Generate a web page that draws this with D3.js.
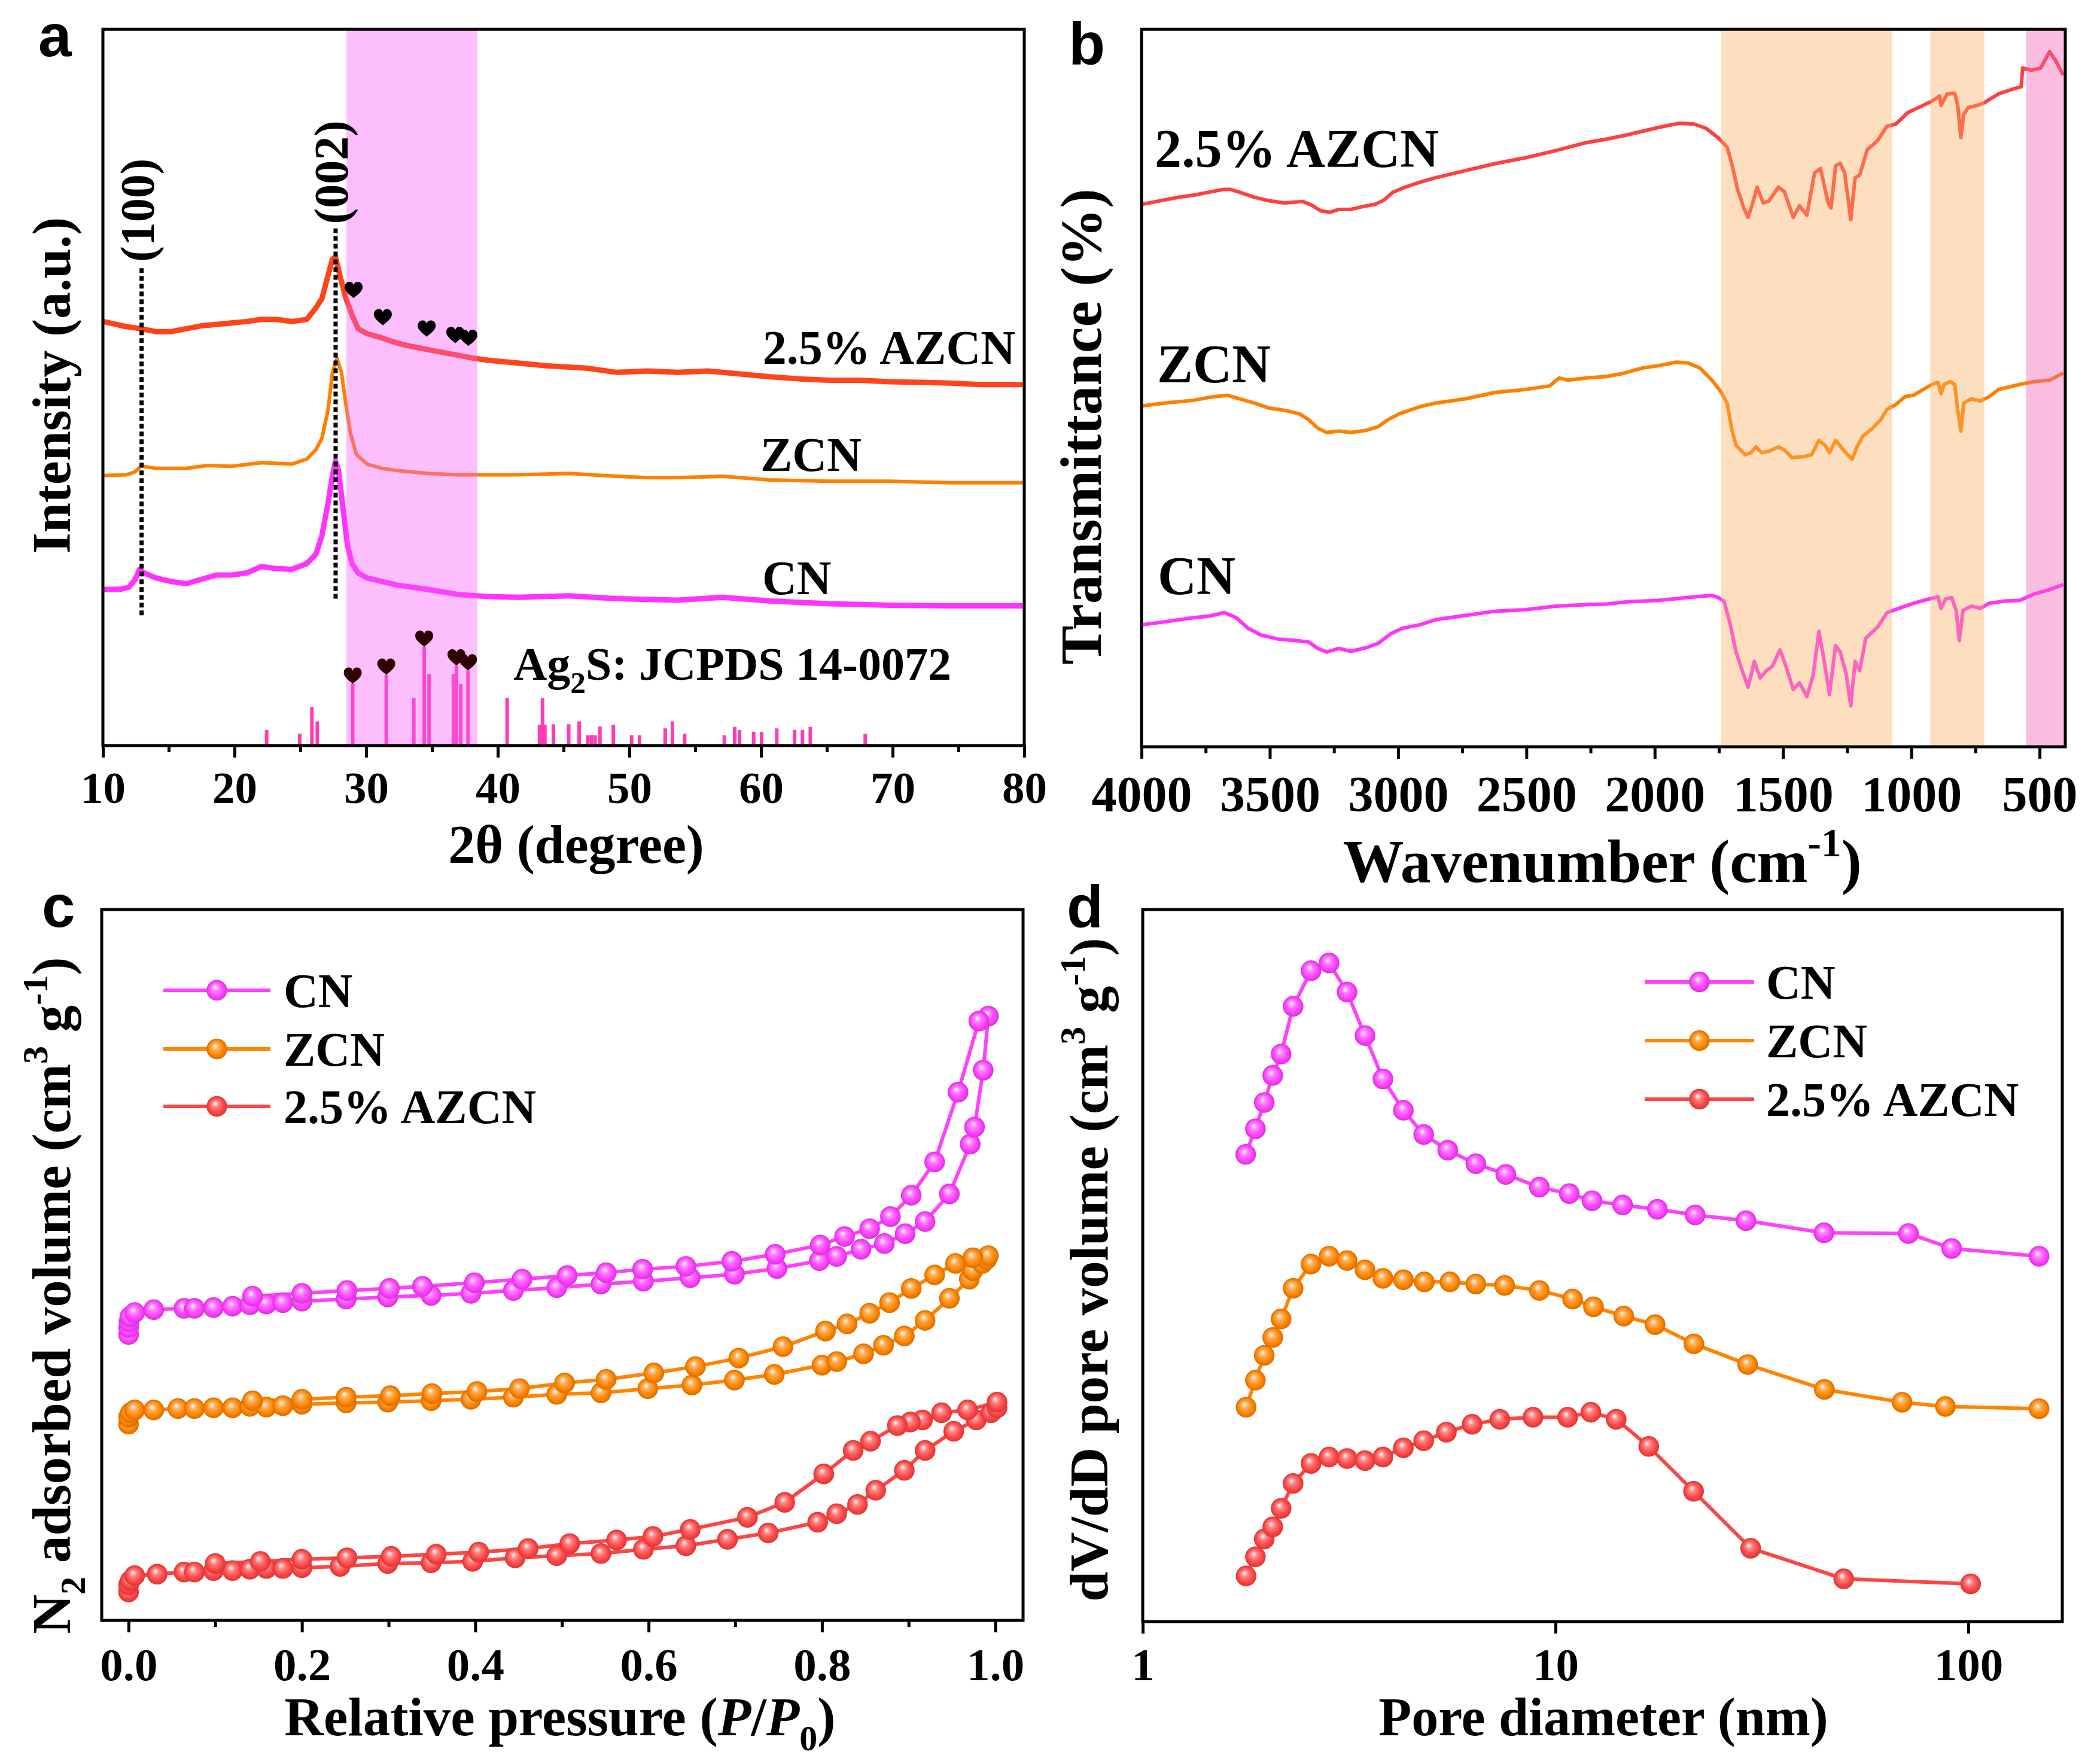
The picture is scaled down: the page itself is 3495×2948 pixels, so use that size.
<!DOCTYPE html>
<html>
<head>
<meta charset="utf-8">
<script src="https://cdnjs.cloudflare.com/ajax/libs/d3/7.8.5/d3.min.js"></script>
<style>body{margin:0;background:#fff}</style>
</head>
<body>
<div id="viz-container"></div>
<script>
// ---------- data (arbitrary units for stacked curves) ----------
// a: XRD, [2theta, intensity]
let xrdAzcn = [[10.03,59.2],[11.75,58.5],[12.89,58.2],[14.04,57.8],[15.18,57.8],[16.33,58.2],[17.47,58.6],[18.62,58.8],[19.76,59.0],[20.91,59.2],[22.05,59.5],[23.2,59.5],[24.35,59.2],[25.49,59.5],[26.18,61.1],[26.64,62.4],[27.1,65.6],[27.44,67.9],[27.67,68.2],[28.01,65.6],[28.47,62.4],[28.93,60.1],[29.39,58.2],[30.07,57.5],[31.22,56.9],[32.36,56.2],[33.51,55.7],[34.66,55.3],[35.8,54.9],[36.95,54.5],[38.09,54.1],[39.24,53.8],[41.53,53.4],[43.82,53.0],[46.76,52.7],[49.06,52.1],[51.37,52.3],[53.67,52.1],[55.98,52.3],[58.28,51.9],[60.59,51.5],[62.89,51.2],[65.2,51.0],[67.5,51.0],[69.8,50.8],[72.1,50.7],[74.4,50.6],[76.7,50.4],[80,50.4]];
let xrdZcn = [[10.03,37.7],[11.75,37.8],[12.43,38.2],[12.89,39.0],[13.35,38.9],[14.04,38.7],[16.33,38.7],[17.93,39.1],[19.76,39.0],[22.05,39.5],[24.35,39.3],[25.49,40.0],[26.18,41.3],[26.64,42.9],[27.1,46.8],[27.44,52.0],[27.78,54.1],[28.13,52.0],[28.47,47.5],[28.81,43.6],[29.27,40.6],[30.07,39.3],[31.22,38.7],[32.36,38.4],[34.66,38.0],[36.95,37.8],[41.53,37.8],[45.4,38.0],[49.06,37.6],[51.37,37.4],[53.67,37.4],[57.1,37.6],[60.59,37.1],[65.2,36.9],[69.8,36.9],[74.4,36.7],[80,36.7]];
let xrdCn = [[10.03,21.8],[11.29,21.8],[11.97,22.1],[12.43,23.1],[12.78,24.6],[13.12,24.1],[14.04,23.4],[15.18,22.9],[16.33,22.6],[17.47,23.2],[18.62,23.8],[19.76,23.8],[20.91,24.1],[22.05,25.0],[23.2,24.7],[24.35,24.6],[25.49,25.4],[26.18,26.7],[26.64,29.3],[27.1,33.8],[27.44,37.7],[27.67,39.7],[27.9,38.4],[28.24,33.2],[28.58,28.0],[28.93,25.4],[29.39,24.1],[30.07,23.4],[31.22,22.9],[32.36,22.4],[34.66,21.8],[36.95,21.1],[39.24,20.8],[41.53,20.7],[45.4,20.9],[49.06,20.5],[53.67,20.3],[57.1,20.7],[60.59,20.2],[65.2,19.8],[69.8,19.6],[74.4,19.5],[80,19.5]];
// Ag2S reference lines
let ag2sAngle = [22.44,24.95,25.88,26.29,28.98,31.53,33.62,34.41,34.78,36.63,36.86,37.19,37.74,40.71,43.17,43.40,43.58,44.23,45.39,46.18,46.83,47.11,47.39,47.76,48.78,50.17,50.77,52.72,53.27,54.20,57.21,58.0,58.37,59.44,60.04,61.2,62.55,63.15,63.75,67.92];
let ag2sInt = [15.7,12,39,24.5,62.5,71.7,48.2,100,72.3,72.3,81.1,62.5,76.1,48.2,21,48.2,21,21.6,21.6,24.5,10.5,10.5,10.5,19.3,21,10.5,10.5,17.4,24.5,12,10.5,18.9,15.7,14,14,17.4,15.7,15.7,18.9,12];
let heartStickAngles = [28.98,31.53,34.41,36.86,37.74];
let heartCurve = [[29.05,63.6],[31.27,59.8],[34.6,58.2],[36.77,57.3],[37.77,56.9]];
let planeLines = [{label:"(100)", x:12.94, y0:18.2, y1:66.9}, {label:"(002)", x:27.68, y0:20.5, y1:72.2}];
let xrdBand = [28.5, 38.44];
let xrdTicks = [10,20,30,40,50,60,70,80];
let xrdMinor = [15,25,35,45,55,65,75];

// b: FTIR, [wavenumber, transmittance]
let ftirAzcn = [[4000,75.6],[3913,76.2],[3854,76.6],[3795,76.9],[3737,77.3],[3678,77.7],[3654,77.7],[3619,77.3],[3560,76.6],[3502,76.1],[3443,75.8],[3372,76.0],[3337,75.5],[3302,74.7],[3266,74.5],[3231,74.9],[3184,74.9],[3137,75.3],[3090,75.6],[3055,76.2],[3020,77.3],[2973,78.0],[2914,78.7],[2855,79.3],[2738,80.3],[2620,81.3],[2503,82.1],[2385,83.1],[2268,84.2],[2188,84.7],[2106,85.3],[1988,86.3],[1906,86.9],[1847,86.8],[1800,86.2],[1753,84.9],[1718,83.6],[1700,81.3],[1677,77.7],[1653,75.1],[1636,73.8],[1618,75.8],[1601,78.0],[1577,75.8],[1554,76.1],[1518,78.0],[1495,77.4],[1460,73.8],[1436,75.4],[1407,74.1],[1377,80.0],[1354,80.6],[1324,75.8],[1313,75.1],[1295,81.0],[1277,81.3],[1260,80.0],[1236,73.5],[1219,79.3],[1201,79.7],[1172,83.2],[1131,84.5],[1095,86.5],[1060,86.8],[1013,88.4],[954,89.4],[919,90.0],[890,90.7],[884,89.4],[860,91.0],[831,91.1],[819,89.4],[807,84.9],[796,88.1],[778,89.1],[743,89.4],[719,89.7],[660,91.0],[602,91.7],[572,92.0],[566,94.6],[531,94.3],[496,94.6],[461,96.9],[437,95.6],[408,93.6]];
let ftirZcn = [[4000,47.5],[3913,47.9],[3795,48.3],[3737,48.7],[3666,49.0],[3619,48.5],[3560,47.9],[3502,47.2],[3443,46.9],[3384,46.4],[3349,45.6],[3313,44.4],[3278,43.8],[3231,44.0],[3184,43.8],[3125,44.1],[3078,44.6],[3043,45.5],[2996,46.4],[2914,47.4],[2855,47.9],[2738,48.5],[2620,49.4],[2503,49.8],[2409,50.3],[2373,51.4],[2338,51.1],[2268,51.4],[2188,51.6],[2129,52.0],[2047,52.8],[1988,53.1],[1918,53.6],[1871,53.5],[1824,52.8],[1777,51.1],[1742,49.5],[1718,47.9],[1700,44.3],[1683,42.0],[1648,40.7],[1624,41.0],[1606,41.8],[1583,41.0],[1554,41.2],[1518,41.8],[1495,41.4],[1465,40.3],[1424,40.4],[1389,40.7],[1360,42.7],[1336,42.0],[1319,41.0],[1295,42.7],[1272,41.7],[1248,40.7],[1230,40.1],[1213,41.7],[1189,43.3],[1154,44.3],[1119,45.6],[1095,47.0],[1060,47.7],[1025,48.8],[990,49.0],[954,49.8],[919,50.5],[896,50.8],[884,49.2],[872,50.5],[849,50.9],[831,50.5],[819,46.9],[807,44.0],[796,47.9],[766,48.5],[731,48.2],[696,48.8],[660,49.8],[578,50.5],[520,50.9],[461,51.1],[408,52.1]];
let ftirCn = [[4000,17.0],[3913,17.4],[3854,17.7],[3795,18.0],[3737,18.2],[3678,18.7],[3631,18.0],[3584,16.5],[3537,15.6],[3466,15.0],[3396,14.8],[3349,14.6],[3313,13.7],[3278,13.2],[3231,13.7],[3184,13.3],[3125,13.8],[3078,14.4],[3031,15.7],[2985,16.5],[2914,17.0],[2855,17.7],[2738,18.3],[2620,18.9],[2503,19.1],[2385,19.6],[2268,19.8],[2188,19.9],[2106,20.2],[1988,20.4],[1871,20.8],[1777,21.1],[1753,20.8],[1730,20.3],[1706,17.1],[1683,13.2],[1659,10.6],[1636,8.3],[1612,11.9],[1589,9.6],[1565,10.6],[1542,11.2],[1512,13.5],[1495,11.9],[1460,8.0],[1436,8.9],[1407,7.0],[1383,9.9],[1360,16.1],[1342,12.5],[1319,7.3],[1295,14.1],[1277,13.2],[1254,10.2],[1236,5.7],[1219,11.9],[1201,10.6],[1178,15.1],[1131,16.7],[1095,18.7],[1048,19.3],[990,20.0],[931,20.6],[896,20.9],[884,19.3],[866,20.6],[843,20.8],[825,19.0],[813,14.8],[799,19.0],[766,19.6],[731,19.3],[696,20.0],[637,20.3],[578,20.4],[520,21.3],[461,21.9],[408,22.6]];
let ftirBands = [[1742,1075,"orange"],[926,716,"orange"],[553,400,"pink"]];
let ftirTicks = [4000,3500,3000,2500,2000,1500,1000,500];
let ftirMinor = [3750,3250,2750,2250,1750,1250,750];

// c: N2 isotherms, [P/P0, volume] adsorption then desorption
let betCn = [[0.0,40.2],[0.0,41.2],[0.0005,42.0],[0.0014,42.7],[0.007,43.3],[0.029,43.7],[0.064,43.9],[0.076,43.9],[0.098,44.0],[0.12,44.2],[0.14,44.4],[0.159,44.5],[0.178,44.7],[0.2,44.9],[0.251,45.2],[0.299,45.5],[0.349,45.7],[0.395,46.0],[0.444,46.4],[0.494,46.8],[0.545,47.3],[0.594,47.7],[0.648,48.2],[0.699,48.7],[0.748,49.5],[0.797,50.6],[0.817,51.2],[0.845,52.2],[0.872,53.0],[0.896,54.4],[0.919,56.1],[0.947,60.0],[0.971,67.0],[0.976,69.4],[0.986,77.4],[0.992,85.0],[0.981,84.3],[0.957,74.3],[0.93,64.5],[0.903,59.8],[0.879,56.8],[0.855,55.1],[0.826,54.0],[0.798,52.8],[0.746,51.5],[0.696,50.5],[0.643,49.8],[0.593,49.4],[0.551,48.9],[0.506,48.5],[0.454,48.0],[0.399,47.5],[0.339,47.0],[0.301,46.7],[0.252,46.4],[0.2,46.0],[0.143,45.6]];
let betZcn = [[0.0,27.6],[0.0,28.6],[0.002,29.2],[0.007,29.6],[0.029,29.6],[0.057,29.8],[0.076,29.8],[0.098,29.9],[0.12,29.9],[0.14,30.1],[0.159,30.0],[0.178,30.2],[0.2,30.4],[0.251,30.6],[0.299,30.7],[0.349,30.9],[0.395,31.1],[0.444,31.4],[0.494,31.8],[0.545,32.0],[0.599,32.6],[0.65,33.1],[0.699,33.8],[0.745,34.6],[0.8,35.9],[0.817,36.4],[0.848,37.5],[0.871,38.7],[0.895,40.0],[0.919,42.2],[0.947,45.3],[0.97,48.0],[0.974,49.2],[0.985,50.2],[0.99,50.8],[0.992,51.3],[0.974,51.0],[0.954,50.2],[0.93,48.6],[0.903,46.7],[0.878,44.7],[0.855,43.2],[0.829,41.7],[0.804,40.7],[0.755,38.5],[0.704,36.9],[0.654,35.7],[0.606,34.8],[0.551,33.9],[0.503,33.4],[0.451,32.6],[0.402,32.2],[0.35,31.9],[0.302,31.6],[0.251,31.4],[0.2,31.1],[0.143,30.9]];
let betAzcn = [[0.0,4.0],[0.0,5.0],[0.002,5.6],[0.007,6.3],[0.033,6.5],[0.064,6.8],[0.076,6.8],[0.098,7.0],[0.12,7.0],[0.14,7.2],[0.159,7.3],[0.178,7.3],[0.2,7.4],[0.244,7.6],[0.299,8.0],[0.349,8.1],[0.397,8.3],[0.446,8.8],[0.494,9.1],[0.545,9.4],[0.594,10.0],[0.643,10.5],[0.691,11.4],[0.738,12.3],[0.795,13.8],[0.817,15.0],[0.841,16.3],[0.862,18.3],[0.895,21.1],[0.919,23.9],[0.952,26.6],[0.978,28.2],[0.995,29.2],[1.002,29.9],[1.002,30.7],[0.968,29.6],[0.938,29.2],[0.916,28.2],[0.902,27.9],[0.887,27.4],[0.856,25.2],[0.836,23.9],[0.802,20.6],[0.757,16.6],[0.714,14.5],[0.648,12.8],[0.605,11.8],[0.563,11.3],[0.509,10.8],[0.461,10.1],[0.404,9.6],[0.355,9.3],[0.303,9.0],[0.252,8.8],[0.2,8.6],[0.152,8.3],[0.1,8.0]];
let betTicks = [0,0.2,0.4,0.6,0.8,1.0];
let betMinor = [0.1,0.3,0.5,0.7,0.9];

// d: pore size distribution, [diameter nm, dV/dD]
let poreCn = [[1.776,65.6],[1.875,69.2],[1.97,72.9],[2.065,76.7],[2.164,79.7],[2.314,86.4],[2.557,91.4],[2.828,92.5],[3.126,88.4],[3.455,82.3],[3.819,76.2],[4.28,71.8],[4.794,68.4],[5.481,66.2],[6.412,64.3],[7.578,62.8],[9.138,61.0],[10.8,60.1],[12.26,59.1],[14.54,58.5],[17.65,57.9],[21.79,57.1],[28.94,56.3],[44.7,54.6],[71.6,54.5],[91.1,52.4],[148.4,51.3]];
let poreZcn = [[1.78,30.1],[1.875,33.9],[1.97,37.4],[2.065,39.9],[2.164,42.5],[2.314,46.8],[2.557,50.2],[2.828,51.3],[3.126,50.7],[3.455,49.4],[3.819,48.2],[4.28,48.0],[4.81,47.7],[5.55,47.7],[6.41,47.4],[7.53,47.2],[9.14,46.5],[11.0,45.3],[12.36,44.2],[14.63,42.9],[17.43,41.7],[21.64,39.0],[29.2,36.1],[44.8,32.6],[69.1,30.8],[88.0,30.2],[148.4,29.9]];
let poreAzcn = [[1.78,6.4],[1.875,9.1],[1.97,11.6],[2.065,13.3],[2.164,15.9],[2.314,19.4],[2.557,22.2],[2.828,23.1],[3.126,22.9],[3.455,22.6],[3.819,23.1],[4.28,24.4],[4.794,25.4],[5.44,26.6],[6.28,27.7],[7.33,28.4],[8.82,28.7],[10.7,28.7],[12.18,29.4],[14.03,28.4],[16.82,24.6],[21.6,18.3],[29.7,10.3],[49.9,6.0],[101.3,5.3]];
let poreTicks = [1,10,100];

let seriesNames = ["CN", "ZCN", "2.5% AZCN"];

// ---------- setup ----------
let w = 3495;
let h = 2948;
let serif = "'Liberation Serif','Times New Roman',serif";
let sans = "'Liberation Sans',Arial,sans-serif";

let viz = d3.select("#viz-container")
  .append("svg")
  .attr("width", w)
  .attr("height", h)
  .style("background-color", "#ffffff");
let defs = viz.append("defs");

let boxA = {l: 172, r: 1712, t: 49, b: 1246};
let boxB = {l: 1908, r: 3452, t: 49, b: 1248};
let boxC = {l: 170, r: 1710, t: 1520, b: 2708};
let boxD = {l: 1910, r: 3447, t: 1520, b: 2710};

let xA = d3.scaleLinear().domain([10, 80]).range([boxA.l, boxA.r]);
let yA = d3.scaleLinear().domain([0, 100]).range([boxA.b, boxA.t]);
let yStick = d3.scaleLinear().domain([0, 100]).range([boxA.b, boxA.b - 165]);
let xB = d3.scaleLinear().domain([4000, 400]).range([boxB.l, boxB.r]);
let yB = d3.scaleLinear().domain([0, 100]).range([boxB.b, boxB.t]);
let xC = d3.scaleLinear().domain([-0.031, 1.032]).range([boxC.l, boxC.r]);
let yC = d3.scaleLinear().domain([0, 100]).range([boxC.b, boxC.t]);
let xD = d3.scaleLog().domain([1, 168.9]).range([boxD.l, boxD.r]);
let yD = d3.scaleLinear().domain([0, 100]).range([boxD.b, boxD.t]);

function clipFor(id, box) {
  defs.append("clipPath").attr("id", id)
    .append("rect")
    .attr("x", box.l).attr("y", box.t)
    .attr("width", box.r - box.l).attr("height", box.b - box.t);
  return viz.append("g").attr("clip-path", `url(#${id})`);
}

// sphere-like markers
function ballGradient(id, color) {
  let g = defs.append("radialGradient").attr("id", id)
    .attr("cx", "50%").attr("cy", "50%").attr("r", "55%")
    .attr("fx", "40%").attr("fy", "33%");
  g.append("stop").attr("offset", "0%").attr("stop-color", "#ffffff");
  g.append("stop").attr("offset", "30%").attr("stop-color", d3.interpolateRgb(color, "#ffffff")(0.35));
  g.append("stop").attr("offset", "70%").attr("stop-color", color);
  g.append("stop").attr("offset", "100%").attr("stop-color", d3.color(color).darker(0.6));
}

function rich(textSel, parts, fs) {
  let shift = 0;
  parts.forEach(p => {
    let target = p.sub ? 0.28 : (p.sup ? -0.42 : 0);
    let ts = textSel.append("tspan").text(p.t);
    if (target != shift) ts.attr("dy", (target - shift) * fs);
    if (p.sub || p.sup) ts.attr("font-size", fs * 0.66);
    if (p.it) ts.attr("font-style", "italic");
    shift = target;
  });
}

function label(g, x, y, str, fs, anchor) {
  return g.append("text")
    .attr("x", x).attr("y", y)
    .attr("font-family", serif).attr("font-weight", "bold")
    .attr("font-size", fs).attr("fill", "#000")
    .attr("text-anchor", anchor || "start")
    .text(str);
}

function vTitle(x, y, parts, fs) {
  let t = viz.append("text")
    .attr("transform", `translate(${x},${y}) rotate(-90)`)
    .attr("text-anchor", "middle")
    .attr("font-family", serif).attr("font-weight", "bold")
    .attr("font-size", fs).attr("fill", "#000");
  rich(t, parts, fs);
}

function hTitle(x, y, parts, fs) {
  let t = viz.append("text")
    .attr("x", x).attr("y", y)
    .attr("text-anchor", "middle")
    .attr("font-family", serif).attr("font-weight", "bold")
    .attr("font-size", fs).attr("fill", "#000");
  rich(t, parts, fs);
}

function frame(box, x, major, minor, fmt, fs, labelY) {
  let ax = viz.append("g").attr("transform", `translate(0,${box.b})`);
  ax.call(d3.axisBottom(x).tickValues(major).tickSize(20).tickSizeOuter(0).tickFormat(fmt));
  if (minor.length) {
    ax.append("g").call(d3.axisBottom(x).tickValues(minor).tickSize(11).tickSizeOuter(0).tickFormat(""));
  }
  ax.selectAll(".domain").remove();
  ax.selectAll("line").attr("stroke", "#000").attr("stroke-width", 5);
  ax.selectAll("text")
    .attr("y", labelY).attr("dy", null)
    .attr("font-family", serif).attr("font-weight", "bold")
    .attr("font-size", fs).attr("fill", "#000");
  viz.append("rect")
    .attr("x", box.l).attr("y", box.t)
    .attr("width", box.r - box.l).attr("height", box.b - box.t)
    .attr("fill", "none").attr("stroke", "#000").attr("stroke-width", 5);
}

function heartPath(s) {
  let p = d3.path();
  p.moveTo(0, 0.45 * s);
  p.bezierCurveTo(-0.12 * s, 0.33 * s, -0.5 * s, 0.1 * s, -0.5 * s, -0.16 * s);
  p.bezierCurveTo(-0.5 * s, -0.38 * s, -0.34 * s, -0.46 * s, -0.23 * s, -0.46 * s);
  p.bezierCurveTo(-0.1 * s, -0.46 * s, -0.02 * s, -0.38 * s, 0, -0.27 * s);
  p.bezierCurveTo(0.02 * s, -0.38 * s, 0.1 * s, -0.46 * s, 0.23 * s, -0.46 * s);
  p.bezierCurveTo(0.34 * s, -0.46 * s, 0.5 * s, -0.38 * s, 0.5 * s, -0.16 * s);
  p.bezierCurveTo(0.5 * s, 0.1 * s, 0.12 * s, 0.33 * s, 0, 0.45 * s);
  p.closePath();
  return p.toString();
}

let panelLetters = [["a", 64, 94], ["b", 1786, 108], ["c", 70, 1549], ["d", 1783, 1550]];
panelLetters.forEach(d => {
  viz.append("text").attr("x", d[1]).attr("y", d[2])
    .attr("font-family", sans).attr("font-weight", "bold")
    .attr("font-size", 100).attr("fill", "#000").text(d[0]);
});

// ---------- a: XRD ----------
let plotA = clipFor("clipA", boxA);
let lineA = d3.line().x(d => xA(d[0])).y(d => yA(d[1]));
[[xrdCn, "#ff33ff", 9], [xrdZcn, "#ff8000", 6], [xrdAzcn, "#ff4419", 9]].forEach(s => {
  plotA.append("path").attr("d", lineA(s[0]))
    .attr("fill", "none").attr("stroke", s[1])
    .attr("stroke-width", s[2]).attr("stroke-linejoin", "round");
});
plotA.selectAll(".stick").data(ag2sAngle).enter().append("line")
  .attr("class", "stick")
  .attr("x1", d => xA(d)).attr("x2", d => xA(d))
  .attr("y1", boxA.b).attr("y2", (d, i) => yStick(ag2sInt[i]))
  .attr("stroke", "#ff3cb4").attr("stroke-width", 6);
plotA.append("rect")
  .attr("x", xA(xrdBand[0])).attr("y", boxA.t)
  .attr("width", xA(xrdBand[1]) - xA(xrdBand[0])).attr("height", boxA.b - boxA.t)
  .attr("fill", "#f75df7").attr("opacity", 0.4);

planeLines.forEach(p => {
  plotA.append("line")
    .attr("x1", xA(p.x)).attr("x2", xA(p.x))
    .attr("y1", yA(p.y0)).attr("y2", yA(p.y1))
    .attr("stroke", "#000").attr("stroke-width", 7)
    .attr("stroke-dasharray", "8,5");
  viz.append("text")
    .attr("transform", `translate(${xA(p.x) + 20},${yA(p.y1) - 94}) rotate(-90)`)
    .attr("text-anchor", "middle")
    .attr("font-family", serif).attr("font-weight", "bold")
    .attr("font-size", 80).text(p.label);
});

let heart = heartPath(30);
heartStickAngles.forEach(a => {
  let i = ag2sAngle.indexOf(a);
  viz.append("path").attr("d", heart)
    .attr("transform", `translate(${xA(a)},${yStick(ag2sInt[i]) - 13.5})`)
    .attr("fill", "#2e0000");
});
heartCurve.forEach(d => {
  viz.append("path").attr("d", heart)
    .attr("transform", `translate(${xA(d[0])},${yA(d[1])})`)
    .attr("fill", "#000");
});

label(viz, 1697, 608, "2.5% AZCN", 80, "end");
label(viz, 1271, 787, "ZCN", 80);
label(viz, 1274, 993, "CN", 80);
let ag = label(viz, 858, 1136, "", 78);
rich(ag, [{t: "Ag"}, {t: "2", sub: true}, {t: "S: JCPDS 14-0072"}], 78);

frame(boxA, xA, xrdTicks, xrdMinor, d3.format("d"), 75, 96);
hTitle(963, 1442, [{t: "2θ (degree)"}], 90);
vTitle(117, 644, [{t: "Intensity (a.u.)"}], 90);

// ---------- b: FTIR ----------
let plotB = clipFor("clipB", boxB);
let lineB = d3.line().x(d => xB(d[0])).y(d => yB(d[1]));
[[ftirCn, "#ff33ff"], [ftirZcn, "#ff8000"], [ftirAzcn, "#ff4040"]].forEach(s => {
  plotB.append("path").attr("d", lineB(s[0]))
    .attr("fill", "none").attr("stroke", s[1])
    .attr("stroke-width", 6).attr("stroke-linejoin", "round");
});
plotB.selectAll(".band").data(ftirBands).enter().append("rect")
  .attr("class", "band")
  .attr("x", d => xB(d[0])).attr("y", boxB.t)
  .attr("width", d => xB(d[1]) - xB(d[0])).attr("height", boxB.b - boxB.t)
  .attr("fill", d => d[2] == "orange" ? "#faaf5f" : "#f75db1")
  .attr("opacity", 0.4);

label(viz, 1930, 279, "2.5% AZCN", 90);
label(viz, 1934, 639, "ZCN", 90);
label(viz, 1935, 993, "CN", 90);

frame(boxB, xB, ftirTicks, ftirMinor, d3.format("d"), 84, 108);
hTitle(2678, 1474, [{t: "Wavenumber (cm"}, {t: "-1", sup: true}, {t: ")"}], 102);
vTitle(1840, 713, [{t: "Transmittance (%)"}], 98);

// ---------- c & d: marker charts ----------
let colors = ["#ff40ff", "#ff8400", "#ff4444"];
let ballIds = ["ball-cn", "ball-zcn", "ball-azcn"];
colors.forEach((c, i) => ballGradient(ballIds[i], c));

function markerSeries(g, data, x, y, i) {
  let line = d3.line().x(d => x(d[0])).y(d => y(d[1]));
  g.append("path").attr("d", line(data))
    .attr("fill", "none").attr("stroke", colors[i])
    .attr("stroke-width", 6).attr("stroke-linejoin", "round");
  g.selectAll(".pt" + i).data(data).enter().append("circle")
    .attr("class", "pt" + i)
    .attr("cx", d => x(d[0])).attr("cy", d => y(d[1]))
    .attr("r", 16.5)
    .attr("fill", `url(#${ballIds[i]})`)
    .attr("stroke", d3.color(colors[i]).darker(0.4)).attr("stroke-width", 1.5);
}

function legend(x0, x1, xt, ys) {
  seriesNames.forEach((name, i) => {
    viz.append("line")
      .attr("x1", x0).attr("x2", x1).attr("y1", ys[i]).attr("y2", ys[i])
      .attr("stroke", colors[i]).attr("stroke-width", 6);
    viz.append("circle")
      .attr("cx", (x0 + x1) / 2).attr("cy", ys[i]).attr("r", 16.5)
      .attr("fill", `url(#${ballIds[i]})`)
      .attr("stroke", d3.color(colors[i]).darker(0.4)).attr("stroke-width", 1.5);
    label(viz, xt, ys[i] + 28, name, 80);
  });
}

let plotC = viz.append("g");
markerSeries(plotC, betCn, xC, yC, 0);
markerSeries(plotC, betZcn, xC, yC, 1);
markerSeries(plotC, betAzcn, xC, yC, 2);
legend(273, 452, 474, [1655, 1753, 1849]);
frame(boxC, xC, betTicks, betMinor, d3.format(".1f"), 77, 100);
hTitle(936, 2900, [{t: "Relative pressure ("}, {t: "P", it: true}, {t: "/"}, {t: "P", it: true}, {t: "0", sub: true}, {t: ")"}], 91);
vTitle(117, 2165, [{t: "N"}, {t: "2", sub: true}, {t: " adsorbed volume (cm"}, {t: "3", sup: true}, {t: " g"}, {t: "-1", sup: true}, {t: ")"}], 91);

let plotD = viz.append("g");
markerSeries(plotD, poreCn, xD, yD, 0);
markerSeries(plotD, poreZcn, xD, yD, 1);
markerSeries(plotD, poreAzcn, xD, yD, 2);
legend(2749, 2932, 2952, [1641, 1739, 1837]);
frame(boxD, xD, poreTicks, [], d3.format("d"), 77, 98);
hTitle(2680, 2900, [{t: "Pore diameter (nm)"}], 90);
vTitle(1851, 2122, [{t: "dV/dD pore volume (cm"}, {t: "3", sup: true}, {t: " g"}, {t: "-1", sup: true}, {t: ")"}], 91);
</script>
</body>
</html>
